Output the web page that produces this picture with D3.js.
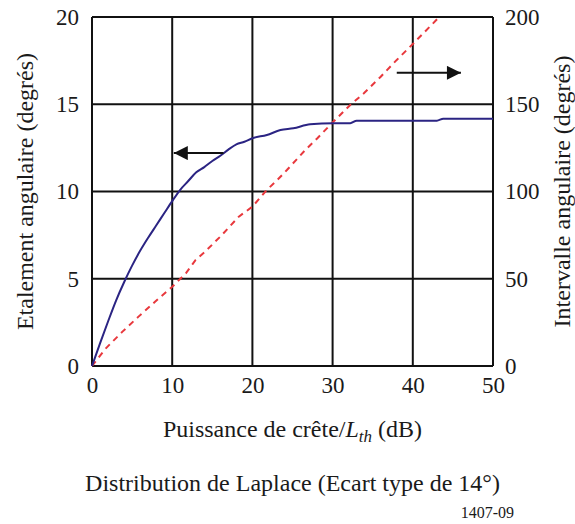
<!DOCTYPE html>
<html>
<head>
<meta charset="utf-8">
<script src="https://cdn.jsdelivr.net/npm/d3@7"></script>
<style>
	body { margin: 0; background: #fff; }
	text { font-family: "Liberation Serif", "Times New Roman", serif; fill: #1a1a1a; }
</style>
</head>
<body>
<div id="chart"></div>
<script>
// Peak power / Lth (dB) and angular spread (deg, left axis)
const spreadX = [0, 1, 2, 3, 4, 5, 6, 7, 8, 9, 10, 11, 12, 13, 14, 15, 16, 17, 18, 19, 20, 21.8, 23.5, 25.1, 27.2, 30.1, 32.2, 33, 39.3, 43, 43.8, 50];
const spreadY = [0, 1.3, 2.55, 3.75, 4.8, 5.75, 6.6, 7.35, 8.05, 8.75, 9.45, 10.1, 10.6, 11.1, 11.4, 11.75, 12.05, 12.4, 12.7, 12.85, 13.05, 13.24, 13.52, 13.62, 13.85, 13.91, 13.91, 14.06, 14.06, 14.06, 14.17, 14.17];

// angular interval (deg, right axis)
const intervalX = [0, 1.7, 3.8, 5.8, 8.1, 10, 11.7, 12.9, 14.1, 16.2, 18.3, 20, 21.8, 23.1, 24.3, 26.6, 28.1, 29.9, 32.2, 33.9, 36, 38, 40.1, 43.3];
const intervalY = [0, 10, 19.7, 28.3, 37.8, 45.4, 53.1, 60.7, 65.5, 75.1, 85.6, 91.3, 100.9, 106.6, 112.3, 123.8, 130.5, 139.1, 149.6, 156.3, 165.8, 175.4, 185, 200];

const xTicks = [0, 10, 20, 30, 40, 50];
const yLeftTicks = [0, 5, 10, 15, 20];
const yRightTicks = [0, 50, 100, 150, 200];

const width = 575, height = 524;
const margin = {top: 17, right: 82, bottom: 158, left: 92};
const w = width - margin.left - margin.right;
const h = height - margin.top - margin.bottom;

const serif = '"Liberation Serif", "Times New Roman", serif';
const tickSize = "23px";
const titleSize = "24px";

const svg = d3.select("#chart").append("svg")
	.attr("width", width)
	.attr("height", height);

const g = svg.append("g")
	.attr("transform", "translate(" + margin.left + "," + margin.top + ")");

const x = d3.scaleLinear().domain([0, 50]).range([0, w]);
const yL = d3.scaleLinear().domain([0, 20]).range([h, 0]);
const yR = d3.scaleLinear().domain([0, 200]).range([h, 0]);

// grid
g.selectAll(".vgrid")
	.data(xTicks)
	.enter().append("line")
	.attr("x1", d => x(d)).attr("x2", d => x(d))
	.attr("y1", 0).attr("y2", h)
	.attr("stroke", "#111").attr("stroke-width", 2);

g.selectAll(".hgrid")
	.data(yLeftTicks)
	.enter().append("line")
	.attr("x1", 0).attr("x2", w)
	.attr("y1", d => yL(d)).attr("y2", d => yL(d))
	.attr("stroke", "#111").attr("stroke-width", 2);

// axes (labels only, the grid draws the lines)
function styleAxis(sel) {
	sel.attr("font-family", serif).attr("font-size", tickSize);
	sel.select(".domain").remove();
	sel.selectAll("text").style("font-family", serif).style("font-size", tickSize).attr("fill", "#1a1a1a");
}

g.append("g")
	.attr("transform", "translate(0," + h + ")")
	.call(d3.axisBottom(x).tickValues(xTicks).tickSize(0).tickPadding(11))
	.call(styleAxis);

g.append("g")
	.call(d3.axisLeft(yL).tickValues(yLeftTicks).tickSize(0).tickPadding(13))
	.call(styleAxis);

g.append("g")
	.attr("transform", "translate(" + w + ",0)")
	.call(d3.axisRight(yR).tickValues(yRightTicks).tickSize(0).tickPadding(12))
	.call(styleAxis);

// curves
const lineL = d3.line()
	.x((d, i) => x(spreadX[i]))
	.y(d => yL(d))
	.curve(d3.curveMonotoneX);

const lineR = d3.line()
	.x((d, i) => x(intervalX[i]))
	.y(d => yR(d));

g.append("path")
	.datum(intervalY)
	.attr("d", lineR)
	.attr("fill", "none")
	.attr("stroke", "#e8383d")
	.attr("stroke-width", 2)
	.attr("stroke-dasharray", "6,5");

g.append("path")
	.datum(spreadY)
	.attr("d", lineL)
	.attr("fill", "none")
	.attr("stroke", "#2b2483")
	.attr("stroke-width", 2);

// arrows
svg.append("defs").append("marker")
	.attr("id", "head")
	.attr("viewBox", "0 0 10 10")
	.attr("refX", 10).attr("refY", 5)
	.attr("markerUnits", "userSpaceOnUse")
	.attr("orient", "auto")
	.attr("markerWidth", 22).attr("markerHeight", 14)
	.append("path")
	.attr("d", "M0,0L10,5L0,10Z")
	.attr("fill", "#111");

g.append("line")
	.attr("x1", x(16.4)).attr("x2", x(10.2))
	.attr("y1", yL(12.2)).attr("y2", yL(12.2))
	.attr("stroke", "#111").attr("stroke-width", 2)
	.attr("marker-end", "url(#head)");

g.append("line")
	.attr("x1", x(38)).attr("x2", x(46))
	.attr("y1", yR(168)).attr("y2", yR(168))
	.attr("stroke", "#111").attr("stroke-width", 2)
	.attr("marker-end", "url(#head)");

// titles
const xt = svg.append("text")
	.attr("x", margin.left + w / 2)
	.attr("y", 437)
	.attr("text-anchor", "middle")
	.style("font-size", titleSize);
xt.append("tspan").text("Puissance de crête/");
xt.append("tspan").attr("font-style", "italic").text("L");
xt.append("tspan").attr("font-style", "italic").attr("dy", 5).style("font-size", "17px").text("th");
xt.append("tspan").attr("dy", -5).text(" (dB)");

svg.append("text")
	.attr("transform", "translate(33," + (margin.top + h / 2) + ") rotate(-90)")
	.attr("text-anchor", "middle")
	.style("font-size", titleSize)
	.text("Etalement angulaire (degrés)");

svg.append("text")
	.attr("transform", "translate(570," + (margin.top + h / 2) + ") rotate(-90)")
	.attr("text-anchor", "middle")
	.style("font-size", titleSize)
	.text("Intervalle angulaire (degrés)");

svg.append("text")
	.attr("x", margin.left + w / 2)
	.attr("y", 491)
	.attr("text-anchor", "middle")
	.style("font-size", titleSize)
	.text("Distribution de Laplace (Ecart type de 14°)");

svg.append("text")
	.attr("x", 514)
	.attr("y", 518)
	.attr("text-anchor", "end")
	.style("font-size", "16px")
	.text("1407-09");
</script>
</body>
</html>
